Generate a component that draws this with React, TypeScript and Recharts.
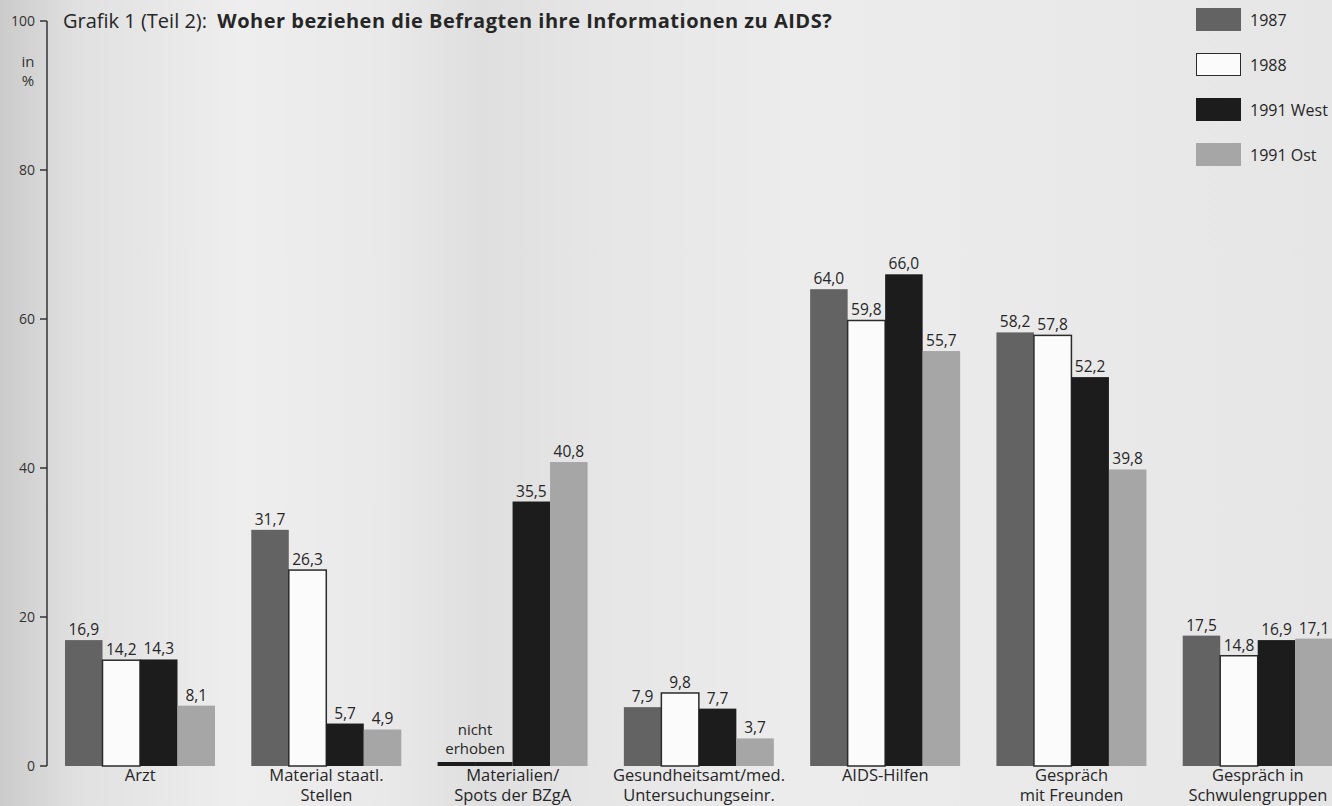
import { BarChart, Bar, XAxis, YAxis, LabelList } from 'recharts';

const categories = [
  'Arzt',
  'Material staatl.\nStellen',
  'Materialien/\nSpots der BZgA',
  'Gesundheitsamt/med.\nUntersuchungseinr.',
  'AIDS-Hilfen',
  'Gespräch\nmit Freunden',
  'Gespräch in\nSchwulengruppen',
];

const y1987 = [16.9, 31.7, 0, 7.9, 64.0, 58.2, 17.5];
const y1988 = [14.2, 26.3, 0, 9.8, 59.8, 57.8, 14.8];
const y1991West = [14.3, 5.7, 35.5, 7.7, 66.0, 52.2, 16.9];
const y1991Ost = [8.1, 4.9, 40.8, 3.7, 55.7, 39.8, 17.1];

// categories where 1987/1988 were not part of the survey
const notSurveyed = [false, false, true, false, false, false, false];

const yTicks = [0, 20, 40, 60, 80, 100];

const series = [
  { key: 'y1987', name: '1987', fill: '#636363', stroke: 'none' },
  { key: 'y1988', name: '1988', fill: '#fbfbfb', stroke: '#2b2b2b' },
  { key: 'y1991West', name: '1991 West', fill: '#1c1c1c', stroke: 'none' },
  { key: 'y1991Ost', name: '1991 Ost', fill: '#a6a6a6', stroke: 'none' },
];

const data = categories.map((name, i) => ({
  name,
  y1987: y1987[i],
  y1988: y1988[i],
  y1991West: y1991West[i],
  y1991Ost: y1991Ost[i],
}));

const FONT = '"Open Sans", "Noto Sans", sans-serif';
const INK = '#262626';

const fmt = (v: number) => v.toFixed(1).replace('.', ',');

const CategoryTick = (props: any) => {
  const { x, y, payload } = props;
  const lines = String(payload.value).split('\n');
  return (
    <text x={x} y={y} textAnchor="middle" fontFamily={FONT} fontSize={16.5} fill={INK}>
      {lines.map((l, i) => (
        <tspan key={i} x={x} dy={i === 0 ? 7 : 20}>
          {l}
        </tspan>
      ))}
    </text>
  );
};

const ValueTick = (props: any) => {
  const { x, y, payload } = props;
  return (
    <text x={x - 3} y={y} dy={5} textAnchor="end" fontFamily={FONT} fontSize={14} fill="#333">
      {payload.value}
    </text>
  );
};

const makeShape = (early: boolean, first: boolean) => (props: any) => {
  const { x, y, width, height, index, fill, stroke } = props;
  if (early && notSurveyed[index]) {
    const base = y + height;
    return (
      <g>
        <rect x={x} y={base - 4} width={width} height={4} fill="#1c1c1c" />
        {first && (
          <text x={x + width} y={base - 31} textAnchor="middle" fontFamily={FONT} fontSize={15} fill={INK}>
            <tspan x={x + width} dy={0}>nicht</tspan>
            <tspan x={x + width} dy={19}>erhoben</tspan>
          </text>
        )}
      </g>
    );
  }
  return (
    <rect
      x={x}
      y={y}
      width={width}
      height={height}
      fill={fill}
      stroke={stroke}
      strokeWidth={stroke === 'none' ? 0 : 1.5}
    />
  );
};

const makeLabel = (early: boolean) => (props: any) => {
  const { x, y, width, value, index } = props;
  if (early && notSurveyed[index]) return null;
  return (
    <text x={x + width / 2} y={y - 5} textAnchor="middle" fontFamily={FONT} fontSize={15.5} fill={INK}>
      {fmt(value)}
    </text>
  );
};

const SeriesLegend = () => (
  <div
    style={{
      position: 'absolute',
      left: 1196,
      top: 8,
      fontFamily: FONT,
      fontSize: 16,
      color: INK,
    }}
  >
    {series.map((s) => (
      <div key={s.key} style={{ display: 'flex', alignItems: 'center', height: 23, marginBottom: 22 }}>
        <span
          style={{
            width: 45,
            height: 23,
            boxSizing: 'border-box',
            background: s.fill,
            border: s.stroke === 'none' ? 'none' : `1.5px solid ${s.stroke}`,
            marginRight: 9,
          }}
        />
        {s.name}
      </div>
    ))}
  </div>
);

export default function App() {
  return (
    <div
      style={{
        position: 'absolute',
        left: 0,
        top: 0,
        width: 1332,
        height: 806,
        overflow: 'hidden',
        background:
          'linear-gradient(90deg, #cbcbcb 0%, #e1e1e1 6%, #eeeeee 18%, #e9e9e9 29%, #dfdfdf 36%, #e6e6e6 45%, #ececec 60%, #eaeaea 75%, #e6e6e6 100%)',
      }}
    >
      <div
        style={{
          position: 'absolute',
          left: 63,
          top: 7,
          fontFamily: FONT,
          fontSize: 20,
          color: INK,
          whiteSpace: 'nowrap',
        }}
      >
        Grafik 1 (Teil 2):&nbsp;&nbsp;<b style={{ letterSpacing: 0.5 }}>Woher beziehen die Befragten ihre Informationen zu AIDS?</b>
      </div>
      <div
        style={{
          position: 'absolute',
          left: 16,
          top: 52,
          width: 24,
          textAlign: 'center',
          fontFamily: FONT,
          fontSize: 15,
          lineHeight: '19px',
          color: '#333',
        }}
      >
        in
        <br />%
      </div>
      <SeriesLegend />
      <div style={{ position: 'absolute', left: 0, top: 0 }}>
        <BarChart
          width={1352}
          height={806}
          data={data}
          margin={{ top: 21, right: 1, bottom: 0, left: 0 }}
          barGap={0}
          barSize={37.5}
        >
          <XAxis
            dataKey="name"
            axisLine={false}
            tickLine={false}
            interval={0}
            height={40}
            tick={<CategoryTick />}
          />
          <YAxis
            domain={[0, 100]}
            ticks={yTicks}
            width={47}
            axisLine={{ stroke: '#333', strokeWidth: 1.5 }}
            tickLine={{ stroke: '#333', strokeWidth: 1.5 }}
            tickSize={7}
            tick={<ValueTick />}
          />
          {series.map((s, si) => (
            <Bar
              key={s.key}
              dataKey={s.key}
              name={s.name}
              fill={s.fill}
              stroke={s.stroke}
              isAnimationActive={false}
              shape={makeShape(si < 2, si === 0)}
            >
              <LabelList dataKey={s.key} content={makeLabel(si < 2)} />
            </Bar>
          ))}
        </BarChart>
      </div>
    </div>
  );
}
